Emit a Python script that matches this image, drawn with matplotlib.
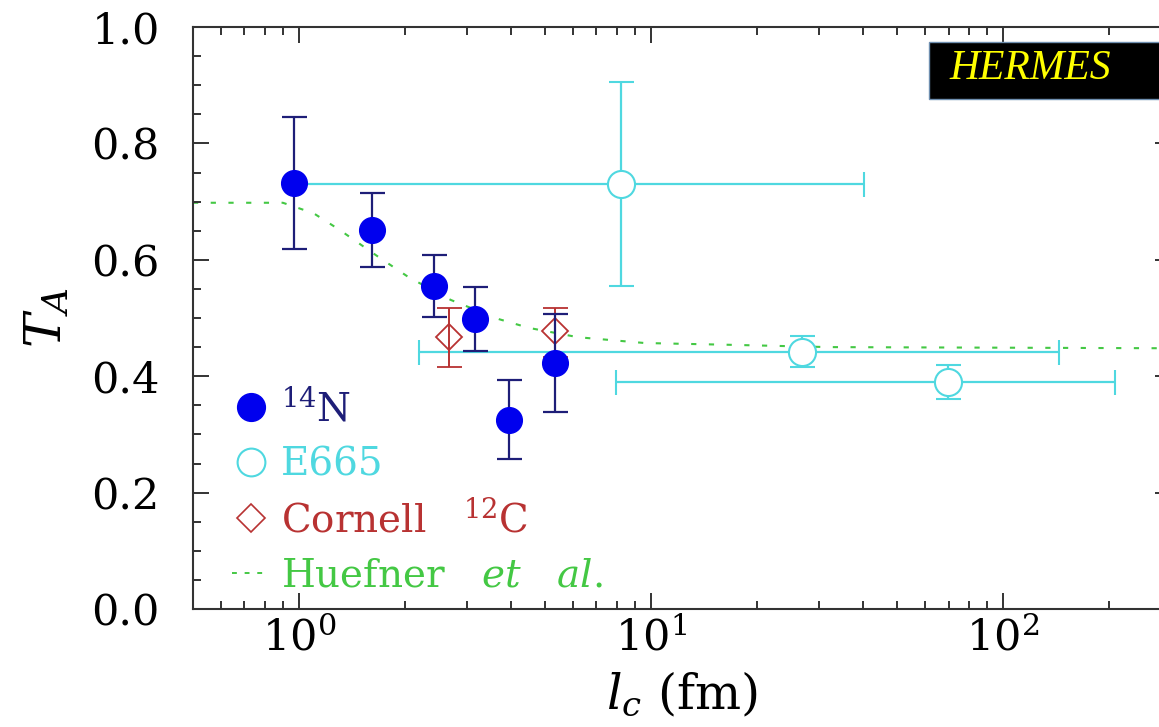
import numpy as np
import matplotlib.pyplot as plt
from matplotlib.lines import Line2D
from matplotlib.patches import Rectangle
from matplotlib.ticker import MultipleLocator, FormatStrFormatter

plt.rcParams['font.family'] = 'DejaVu Serif'
plt.rcParams['mathtext.fontset'] = 'dejavuserif'

# HERMES 14N points
n14_lc = [0.97, 1.61, 2.42, 3.16, 3.95, 5.34]
n14_ta = [0.732, 0.651, 0.555, 0.498, 0.325, 0.423]
n14_err = [0.113, 0.063, 0.053, 0.055, 0.068, 0.084]

# E665 (with horizontal l_c ranges)
e665_lc = [8.22, 26.9, 69.8]
e665_ta = [0.730, 0.442, 0.390]
e665_err = [0.175, 0.027, 0.030]
e665_lc_lo = [0.97, 2.19, 7.96]
e665_lc_hi = [40.2, 144.5, 208.0]

# Cornell 12C
corn_lc = [2.67, 5.34]
corn_ta = [0.467, 0.478]
corn_err_lo = [0.051, 0.045]
corn_err_hi = [0.050, 0.039]

# Huefner et al. curve
huef_lc = [0.5, 0.9, 1.1, 1.3, 1.7, 2.05, 2.7, 3.7, 4.5, 6.2, 9.6, 16.6, 32, 300]
huef_ta = [0.698, 0.698, 0.68, 0.652, 0.603, 0.57, 0.531, 0.498, 0.483, 0.467,
           0.457, 0.454, 0.45, 0.448]

blue = '#0000ee'
navy = '#1e1e78'
cyan = '#4fd8e0'
red = '#b83232'
green = '#44c844'

fig = plt.figure(figsize=(11.59, 7.27), dpi=100)
ax = fig.add_axes([193 / 1159, 118 / 727, 978 / 1159, 582 / 727])

ax.plot(huef_lc, huef_ta, color=green, lw=1.5, dashes=(2.5, 6), zorder=1)

e_lc = np.array(e665_lc)
xerr = [e_lc - np.array(e665_lc_lo), np.array(e665_lc_hi) - e_lc]
ax.errorbar(e665_lc, e665_ta, yerr=e665_err, xerr=xerr, fmt='o', ms=19.5,
            mfc='white', mec=cyan, mew=1.5, ecolor=cyan, elinewidth=1.6,
            capsize=9, capthick=1.6, zorder=2)

ax.errorbar(corn_lc, corn_ta, yerr=[corn_err_lo, corn_err_hi], fmt='D', ms=13.5,
            mfc='none', mec=red, mew=1.3, ecolor=red, elinewidth=1.4,
            capsize=9, capthick=1.4, zorder=3)

ax.errorbar(n14_lc, n14_ta, yerr=n14_err, fmt='o', ms=18.5, mfc=blue, mec=blue,
            ecolor=navy, elinewidth=1.6, capsize=9, capthick=1.6, zorder=4)

ax.set_xscale('log')
ax.set_xlim(0.5, 300)
ax.set_ylim(0, 1)
ax.yaxis.set_major_locator(MultipleLocator(0.2))
ax.yaxis.set_minor_locator(MultipleLocator(0.05))
ax.yaxis.set_major_formatter(FormatStrFormatter('%.1f'))

for s in ax.spines.values():
    s.set_linewidth(1.5)
    s.set_color('#333333')
ax.tick_params(which='both', direction='in', top=True, right=True, width=1.4,
               color='#333333', labelsize=31)
ax.tick_params(which='major', length=11.5)
ax.tick_params(which='minor', length=6)
ax.tick_params(axis='y', which='major', pad=24)
ax.tick_params(axis='x', which='major', pad=6)

ax.set_ylabel('$T_A$', fontsize=37, labelpad=14)
ax.set_xlabel(r'$l_c\ (\mathrm{fm})$', fontsize=35, labelpad=7)

handles = [
    Line2D([], [], ls='none', marker='o', ms=20, mfc=blue, mec=blue),
    Line2D([], [], ls='none', marker='o', ms=20, mfc='none', mec=cyan, mew=1.5),
    Line2D([], [], ls='none', marker='D', ms=14, mfc='none', mec=red, mew=1.2),
    Line2D([], [], color=green, lw=1.4, dashes=(2.5, 4)),
]
labels = ['$^{14}$N', 'E665', 'Cornell   $^{12}$C',
          r'Huefner   $\mathit{et}$   $\mathit{al.}$']
ax.legend(handles, labels, loc='lower left', bbox_to_anchor=(0.04, 0.025),
          borderpad=0, borderaxespad=0, frameon=False, handlelength=0.95,
          handletextpad=0.3, labelspacing=0.45,
          prop={'family': 'DejaVu Serif', 'size': 28},
          labelcolor=[navy, cyan, red, green])

fig.add_artist(Rectangle((929 / 1159, 1 - 99 / 727), 0.25, 57 / 727,
                         transform=fig.transFigure, facecolor='black',
                         edgecolor='#6f8fb0', lw=1, zorder=10))
fig.text(1030 / 1159, 1 - 69 / 727, 'HERMES', ha='center', va='center',
         color='#ffff00', fontsize=30, family='Liberation Serif', style='italic',
         zorder=11)

fig.savefig('out.png', dpi=100)
